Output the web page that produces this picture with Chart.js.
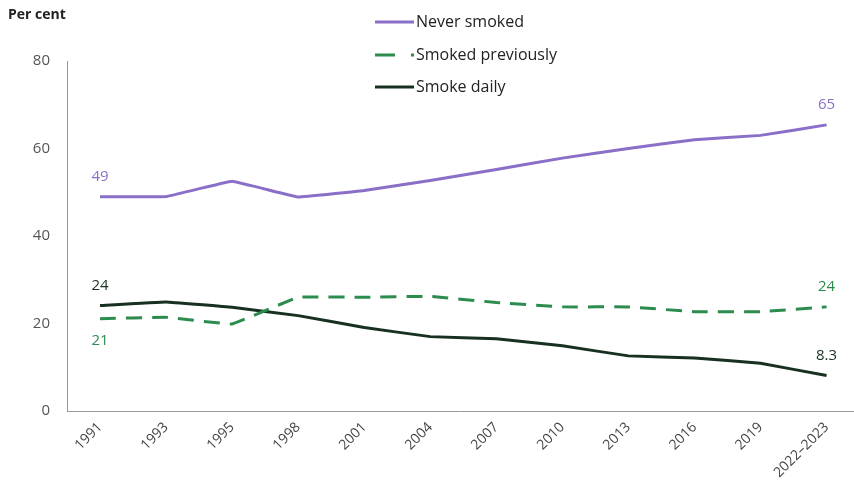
<!DOCTYPE html>
<html><head><meta charset="utf-8">
<script src="https://cdn.jsdelivr.net/npm/chart.js@4"></script>
<style>html,body{margin:0;padding:0;background:#fff}#wrap{width:854px;height:497px;position:relative}</style>
</head><body><div id="wrap"><canvas id="c" width="854" height="497"></canvas></div>
<script>
const categories = ['1991','1993','1995','1998','2001','2004','2007','2010','2013','2016','2019','2022–2023'];
const neverSmoked = [49, 49, 52.5, 48.9, 50.4, 52.7, 55.2, 57.8, 60.0, 62.0, 63.0, 65.4];
const smokedPreviously = [21.1, 21.4, 19.9, 26.0, 26.0, 26.2, 24.8, 23.8, 23.8, 22.7, 22.7, 23.8];
const smokeDaily = [24.1, 24.9, 23.7, 21.8, 19.1, 17.0, 16.5, 14.9, 12.6, 12.1, 10.9, 8.1];
const yTicks = [0, 20, 40, 60, 80];
const seriesNames = ['Never smoked', 'Smoked previously', 'Smoke daily'];
const firstLabels = ['49', '21', '24'];
const lastLabels = ['65', '24', '8.3'];

const colors = ['#8a6fc8', '#2b8c4e', '#17301f'];
const FONT = '"Open Sans", "Noto Sans", sans-serif';

const labelPlugin = {
  id: 'labels',
  afterDatasetsDraw(chart) {
    const ctx = chart.ctx;
    ctx.save();
    ctx.font = '15px ' + FONT;
    ctx.textAlign = 'center';
    const metas = [0,1,2].map(i => chart.getDatasetMeta(i));
    const offsFirst = [-20, 22, -20];
    const offsLast = [-20, -20, -20];
    metas.forEach((m, i) => {
      const p0 = m.data[0];
      const pl = m.data[m.data.length - 1];
      ctx.fillStyle = colors[i];
      ctx.textBaseline = 'middle';
      ctx.fillText(firstLabels[i], p0.x, p0.y + offsFirst[i]);
      ctx.fillText(lastLabels[i], pl.x, pl.y + offsLast[i]);
    });
    ctx.fillStyle = '#222';
    ctx.textAlign = 'left';
    ctx.font = 'bold 14px ' + FONT;
    ctx.fillText('Per cent', 8, 15);
    ctx.font = '16px ' + FONT;
    const ly = [22, 55, 87];
    ly.forEach((y, i) => {
      ctx.strokeStyle = colors[i];
      ctx.lineWidth = 3;
      ctx.beginPath();
      if (i === 1) ctx.setLineDash([20, 16]); else ctx.setLineDash([]);
      ctx.moveTo(375, y); ctx.lineTo(414, y);
      ctx.stroke();
      ctx.setLineDash([]);
      ctx.fillStyle = '#222';
      ctx.fillText(seriesNames[i], 416, y);
    });
    ctx.restore();
  }
};

new Chart(document.getElementById('c'), {
  type: 'line',
  data: {
    datasets: [
      { label: seriesNames[0], data: neverSmoked.map((v, i) => ({x: i, y: v})), borderColor: colors[0], borderWidth: 3, pointRadius: 0, tension: 0.05 },
      { label: seriesNames[1], data: smokedPreviously.map((v, i) => ({x: i, y: v})), borderColor: colors[1], borderWidth: 3, pointRadius: 0, tension: 0.05, borderDash: [16, 10] },
      { label: seriesNames[2], data: smokeDaily.map((v, i) => ({x: i, y: v})), borderColor: colors[2], borderWidth: 3, pointRadius: 0, tension: 0.05 }
    ]
  },
  options: {
    responsive: false,
    animation: false,
    layout: { padding: { top: 61, right: 1, left: 0, bottom: 0 } },
    plugins: { legend: { display: false }, tooltip: { enabled: false } },
    scales: {
      x: {
        type: 'linear', min: -0.5, max: 11.4,
        afterBuildTicks(s) { s.ticks = categories.map((c, i) => ({ value: i })); },
        afterFit(s) { s.height = 86; },
        grid: { display: false, drawTicks: false },
        border: { display: true, color: '#9a9a9a', width: 1 },
        ticks: {
          callback: (v) => categories[v],
          maxRotation: 45, minRotation: 45, autoSkip: false,
          color: '#444', font: { family: FONT, size: 14 }, padding: 8
        }
      },
      y: {
        min: 0, max: 80,
        afterBuildTicks(s) { s.ticks = yTicks.map(v => ({ value: v })); },
        afterFit(s) { s.width = 67; },
        grid: { display: false, drawTicks: false },
        border: { display: true, color: '#9a9a9a', width: 1 },
        ticks: { color: '#555', font: { family: FONT, size: 15 }, padding: 17 }
      }
    }
  },
  plugins: [labelPlugin]
});
</script></body></html>
